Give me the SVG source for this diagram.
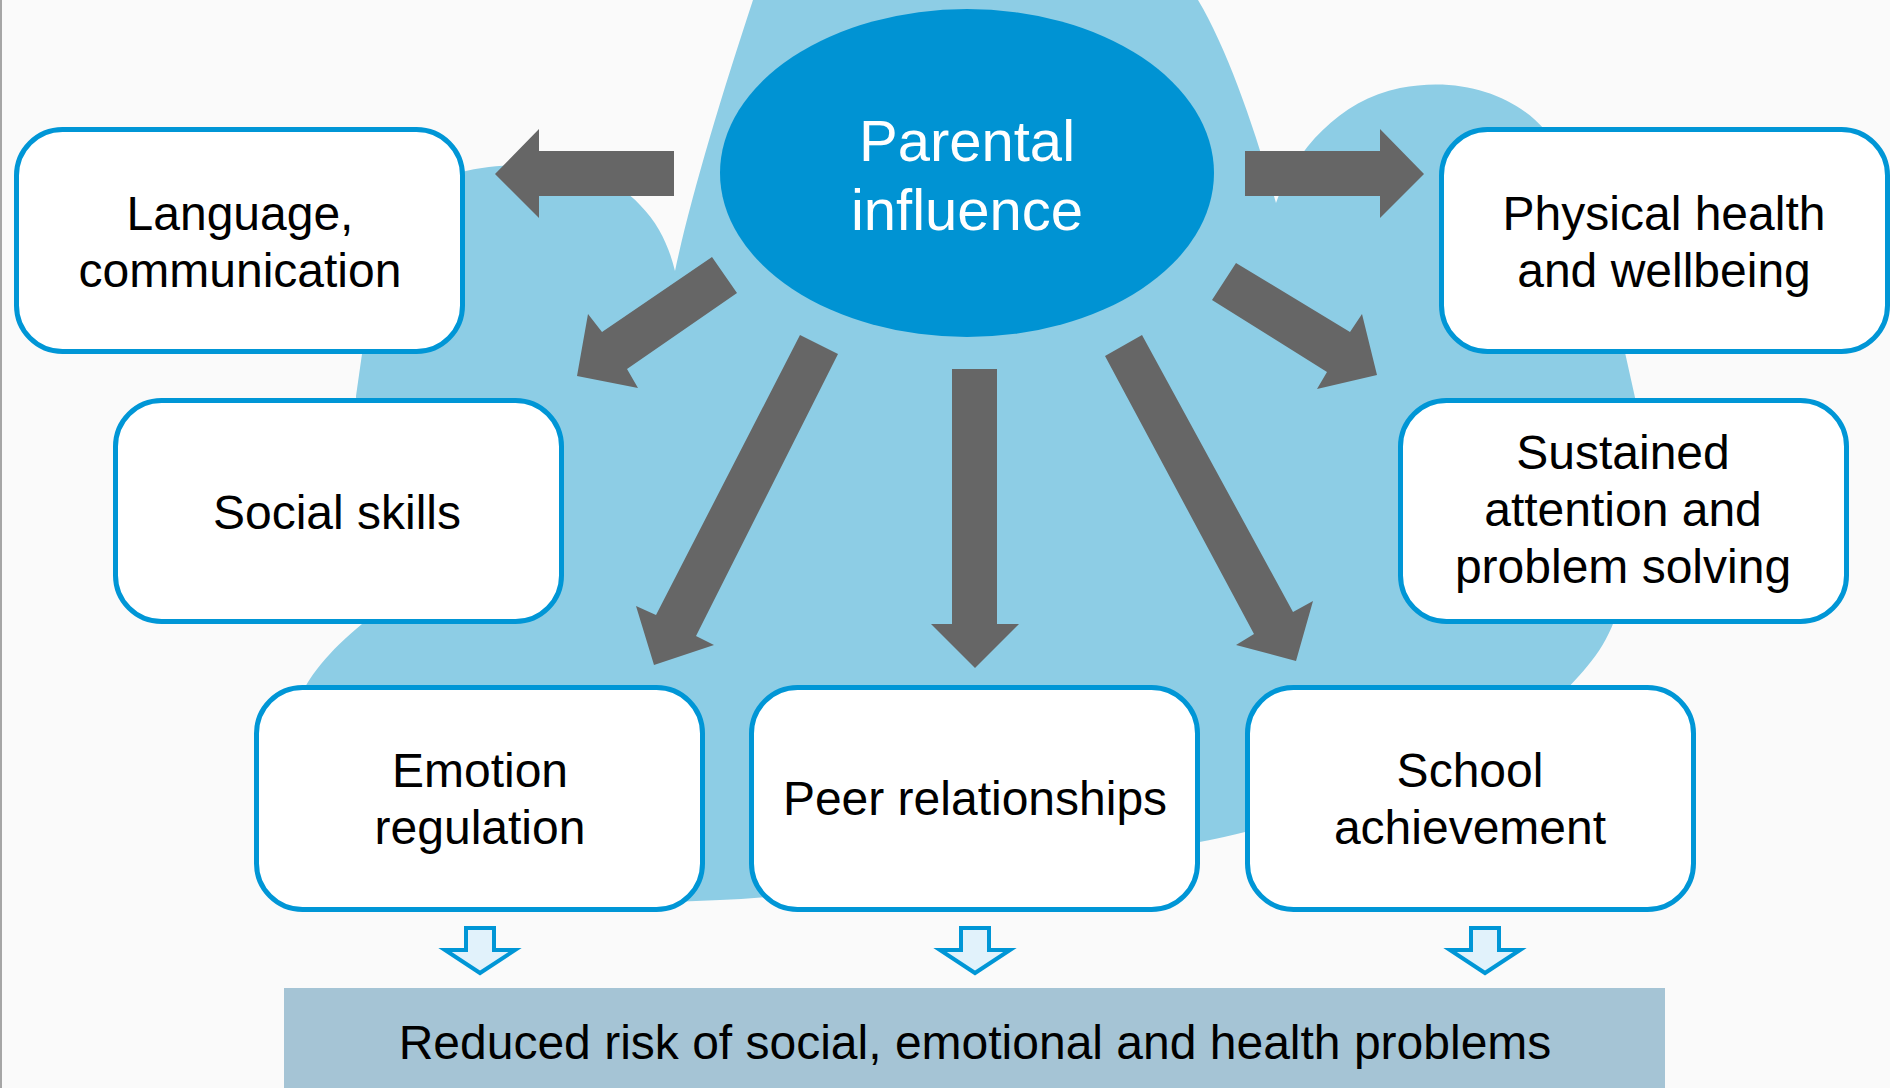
<svg xmlns="http://www.w3.org/2000/svg" width="1890" height="1088" viewBox="0 0 1890 1088">
<defs>
<style>
.box{fill:#ffffff;stroke:#0096d6;stroke-width:5}
.t{font-family:"Liberation Sans",Arial,sans-serif;font-size:48px;fill:#000;text-anchor:middle}
.tw{font-family:"Liberation Sans",Arial,sans-serif;font-size:58px;fill:#fff;text-anchor:middle}
.ga{fill:#666666}
.ha{fill:#e1f2fb;stroke:#0096d6;stroke-width:4;stroke-linejoin:miter}
</style>
<polygon id="hollow" class="ha" points="-14,928 14,928 14,950 35,950 0,973 -35,950 -14,950"/>
</defs>
<rect width="1890" height="1088" fill="#fafafa"/>
<line x1="1" y1="0" x2="1" y2="1088" stroke="#a6a6a6" stroke-width="2"/>
<path id="blob" fill="#8dcde5" d="M753,0 L1198,0 C1228,50 1255,130 1276,203 C1295,150 1340,100 1400,88 C1460,76 1515,95 1545,130 L1620,330 L1640,420 L1620,600 C1612,640 1590,665 1566,690 L1400,780 L1245,832 Q1205,842 1180,845 L1000,870 Q820,895 720,900 L600,905 L320,780 L300,700 C305,680 330,650 362,624 L360,500 L356,396 L362,354 L420,200 C440,180 460,170 482,168 C540,160 610,170 640,205 C660,225 670,250 675,271 C690,200 720,100 753,0 Z"/>
<g id="node-language"><rect class="box" x="16.5" y="129.5" width="446" height="222" rx="46"/><text class="t" x="240" y="230">Language,</text><text class="t" x="240" y="287">communication</text></g>
<g id="node-physical"><rect class="box" x="1441.5" y="129.5" width="446" height="222" rx="46"/><text class="t" x="1664" y="230">Physical health</text><text class="t" x="1664" y="287">and wellbeing</text></g>
<g id="node-social"><rect class="box" x="115.5" y="400.5" width="446" height="221" rx="46"/><text class="t" x="337" y="529">Social skills</text></g>
<g id="node-sustained"><rect class="box" x="1400.5" y="400.5" width="446" height="221" rx="46"/><text class="t" x="1623" y="469">Sustained</text><text class="t" x="1623" y="526">attention and</text><text class="t" x="1623" y="583">problem solving</text></g>
<g id="node-emotion"><rect class="box" x="256.5" y="687.5" width="446" height="222" rx="46"/><text class="t" x="480" y="787">Emotion</text><text class="t" x="480" y="844">regulation</text></g>
<g id="node-peer"><rect class="box" x="751.5" y="687.5" width="446" height="222" rx="46"/><text class="t" x="975" y="815">Peer relationships</text></g>
<g id="node-school"><rect class="box" x="1247.5" y="687.5" width="446" height="222" rx="46"/><text class="t" x="1470" y="787">School</text><text class="t" x="1470" y="844">achievement</text></g>
<g id="node-parental"><ellipse cx="967" cy="173" rx="247" ry="164" fill="#0093d3"/><text class="tw" x="967" y="161">Parental</text><text class="tw" x="967" y="230">influence</text></g>
<g id="node-outcome"><rect x="284" y="988" width="1381" height="100" fill="#a5c4d5"/><text class="t" x="975" y="1059">Reduced risk of social, emotional and health problems</text></g>
<g id="connectors">
<polygon class="ga" points="674,151 539,151 539,129 495,174 539,218 539,196 674,196"/>
<polygon class="ga" points="1245,151 1380,151 1380,129 1424,174 1380,218 1380,196 1245,196"/>
<polygon class="ga" points="712,257 602,332 588,314 577,376 638,388 627,369 737,293"/>
<polygon class="ga" points="1236,263 1350,332 1362,314 1377,375 1317,389 1327,372 1212,300"/>
<polygon class="ga" points="800,335 656,615 636,606 654,665 714,645 696,636 838,354"/>
<polygon class="ga" points="952,369 997,369 997,624 1019,624 975,668 931,624 952,624"/>
<polygon class="ga" points="1142,335 1293,612 1313,601 1296,661 1236,645 1254,634 1105,356"/>
<use href="#hollow" transform="translate(480,0)"/>
<use href="#hollow" transform="translate(975,0)"/>
<use href="#hollow" transform="translate(1485,0)"/>
</g>
</svg>
